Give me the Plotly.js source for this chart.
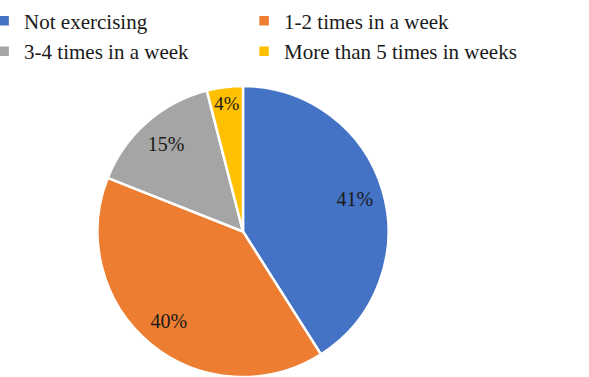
<!DOCTYPE html>
<html>
<head>
<meta charset="utf-8">
<script src="https://cdn.plot.ly/plotly-3.0.1.min.js"></script>
<style>html,body{margin:0;padding:0;background:#fff;}#chart{width:589px;height:377px;}</style>
</head>
<body>
<div id="chart"></div>
<script>
const categories = ["Not exercising", "1-2 times in a week", "3-4 times in a week", "More than 5 times in weeks"];
const values = [41, 40, 15, 4];
const colors = ["#4472C4", "#ED7D31", "#A5A5A5", "#FFC000"];

const FONT = "Liberation Serif";
const DOMAIN = {x: [0.1647, 0.6604], y: [0, 0.7719]};

// filled pie (slices + legend)
const pie = {
  type: "pie",
  labels: categories,
  values: values,
  sort: false,
  direction: "clockwise",
  rotation: 0,
  marker: {colors: colors, line: {color: "#FFFFFF", width: 2.5}},
  textinfo: "none",
  hoverinfo: "none",
  domain: DOMAIN
};

// transparent ring on top carrying the percentage labels further out
const labelsRing = {
  type: "pie",
  labels: categories,
  values: values,
  sort: false,
  direction: "clockwise",
  rotation: 0,
  hole: 0.6,
  showlegend: false,
  marker: {colors: categories.map(() => "rgba(0,0,0,0)"), line: {width: 0}},
  textinfo: "percent",
  texttemplate: "%{percent:.0%}",
  textposition: "inside",
  insidetextorientation: "horizontal",
  textfont: {family: FONT, size: 20, color: "#1a1a1a"},
  hoverinfo: "none",
  domain: DOMAIN
};

const layout = {
  width: 589,
  height: 377,
  margin: {l: 0, r: 0, t: 0, b: 0, autoexpand: false},
  paper_bgcolor: "#FFFFFF",
  showlegend: true,
  legend: {
    orientation: "h",
    x: -0.027,
    y: 1.012,
    xanchor: "left",
    yanchor: "top",
    entrywidth: 215,
    entrywidthmode: "pixels",
    traceorder: "normal",
    bgcolor: "rgba(0,0,0,0)",
    // blank title only widens the legend box so the longest label is not clipped
    title: {text: "\u00a0".repeat(560), side: "top", font: {family: FONT, size: 4}},
    font: {family: FONT, size: 21, color: "#1a1a1a"},
    itemclick: false
  }
};

Plotly.newPlot("chart", [pie, labelsRing], layout, {displayModeBar: false, staticPlot: true});
</script>
</body>
</html>
